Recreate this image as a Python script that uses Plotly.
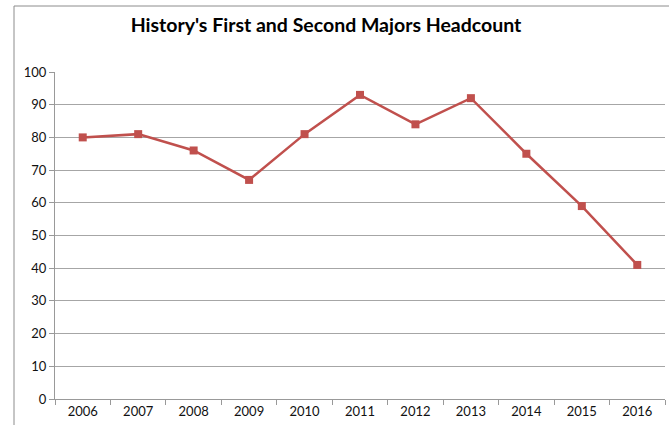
import plotly.graph_objects as go

years = ["2006", "2007", "2008", "2009", "2010", "2011", "2012", "2013", "2014", "2015", "2016"]
headcount = [80, 81, 76, 67, 81, 93, 84, 92, 75, 59, 41]
title_text = "History's First and Second Majors Headcount"

W, H = 669, 425
L, R, T, B = 55, 4, 72, 26
pw, ph = W - L - R, H - T - B

fig = go.Figure()
fig.add_trace(go.Scatter(
    x=years, y=headcount, mode="lines+markers",
    line=dict(color="#C0504D", width=2.5),
    marker=dict(symbol="square", size=8, color="#C0504D"),
    showlegend=False,
))

def px_x(p):
    return (p - L) / pw

def px_y(p):
    return 1 - (p - T) / ph

fig.update_layout(
    width=W, height=H,
    margin=dict(l=L, r=R, t=T, b=B, autoexpand=False),
    paper_bgcolor="white", plot_bgcolor="white",
    font=dict(family="Lato, Liberation Sans, sans-serif", size=13, color="#111"),
    title=dict(text="<b>" + title_text + "</b>", x=326 / W, xanchor="center",
               y=1 - 25 / H, yanchor="middle",
               font=dict(size=19.5, color="#000")),
    xaxis=dict(type="category", showgrid=False, showline=True, linecolor="#999",
               linewidth=1, ticks="outside", tickson="boundaries", ticklen=5,
               tickcolor="#999", range=[-0.5, 10.5], fixedrange=True,
               automargin=False),
    yaxis=dict(range=[0, 100], dtick=10, showgrid=True, gridcolor="#a6a6a6",
               gridwidth=1, showline=True, linecolor="#999", linewidth=1,
               ticks="outside", ticklen=5, tickcolor="#999", zeroline=False,
               fixedrange=True, automargin=False),
    shapes=[
        dict(type="line", xref="paper", yref="paper",
             x0=px_x(14), x1=px_x(14), y0=px_y(430), y1=px_y(6),
             line=dict(color="#8c8c8c", width=1)),
        dict(type="line", xref="paper", yref="paper",
             x0=px_x(14), x1=px_x(680), y0=px_y(6), y1=px_y(6),
             line=dict(color="#8c8c8c", width=1)),
    ],
)

fig.write_html("out.html", config={"displayModeBar": False},
               post_script="document.body.style.margin='0';document.body.style.overflow='hidden';")
